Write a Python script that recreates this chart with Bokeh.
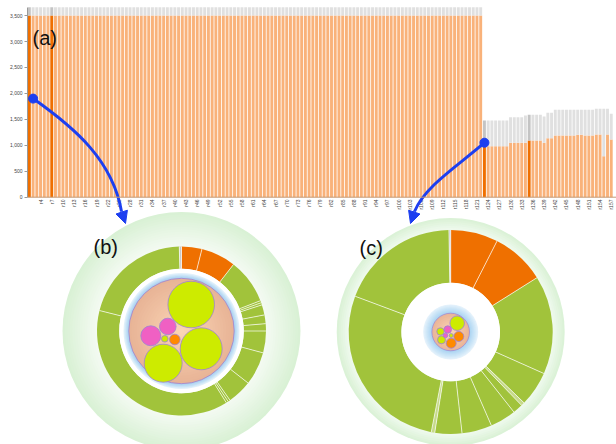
import math
from bokeh.plotting import figure
from bokeh.models import (Range1d, LinearAxis, FixedTicker, NumeralTickFormatter,
                          Span, Arrow, NormalHead)
from bokeh.core.properties import value
from bokeh.embed import file_html
from bokeh.resources import INLINE

# ---------------- data: bar chart (a) ----------------
used_vals = [
    3500, 3500, 3500, 3500, 3500, 3500, 3500, 3500, 3500, 3500, 3500, 3500, 3500, 3500, 3500, 3500, 3500, 3500, 3500, 3500,
    3500, 3500, 3500, 3500, 3500, 3500, 3500, 3500, 3500, 3500, 3500, 3500, 3500, 3500, 3500, 3500, 3500, 3500, 3500, 3500,
    3500, 3500, 3500, 3500, 3500, 3500, 3500, 3500, 3500, 3500, 3500, 3500, 3500, 3500, 3500, 3500, 3500, 3500, 3500, 3500,
    3500, 3500, 3500, 3500, 3500, 3500, 3500, 3500, 3500, 3500, 3500, 3500, 3500, 3500, 3500, 3500, 3500, 3500, 3500, 3500,
    3500, 3500, 3500, 3500, 3500, 3500, 3500, 3500, 3500, 3500, 3500, 3500, 3500, 3500, 3500, 3500, 3500, 3500, 3500, 3500,
    3500, 3500, 3500, 3500, 3500, 3500, 3500, 3500, 3500, 3500, 3500, 3500, 3500, 3500, 3500, 3500, 3500, 3500, 3500, 3500,
    3500, 3500,
    983, 983, 983, 983, 983, 983, 983,
    1048, 1048, 1048, 1048, 1048,
    1092, 1092, 1092, 1092, 1048,
    1137, 1137,
    1189, 1189, 1189, 1189, 1189, 1189, 1205, 1205, 1189, 1189, 1189,
    1208, 1208, 790, 1208, 1112,
]
total_vals = [
    3660, 3660, 3660, 3660, 3660, 3660, 3660, 3660, 3660, 3660, 3660, 3660, 3660, 3660, 3660, 3660, 3660, 3660, 3660, 3660,
    3660, 3660, 3660, 3660, 3660, 3660, 3660, 3660, 3660, 3660, 3660, 3660, 3660, 3660, 3660, 3660, 3660, 3660, 3660, 3660,
    3660, 3660, 3660, 3660, 3660, 3660, 3660, 3660, 3660, 3660, 3660, 3660, 3660, 3660, 3660, 3660, 3660, 3660, 3660, 3660,
    3660, 3660, 3660, 3660, 3660, 3660, 3660, 3660, 3660, 3660, 3660, 3660, 3660, 3660, 3660, 3660, 3660, 3660, 3660, 3660,
    3660, 3660, 3660, 3660, 3660, 3660, 3660, 3660, 3660, 3660, 3660, 3660, 3660, 3660, 3660, 3660, 3660, 3660, 3660, 3660,
    3660, 3660, 3660, 3660, 3660, 3660, 3660, 3660, 3660, 3660, 3660, 3660, 3660, 3660, 3660, 3660, 3660, 3660, 3660, 3660,
    3660, 3660,
    1478, 1478, 1478, 1478, 1478, 1478, 1478,
    1541, 1541, 1541, 1541, 1574,
    1588, 1588, 1588, 1588, 1555,
    1626, 1626,
    1684, 1684, 1684, 1684, 1684, 1684, 1684, 1684, 1684, 1684, 1684,
    1703, 1703, 1703, 1703, 1607,
]
highlight_bars = ["r1", "r7", "r123", "r135"]
tick_labels = ["r4", "r7", "r10", "r13", "r16", "r19", "r22", "r25", "r28", "r31", "r34", "r37",
               "r40", "r43", "r46", "r49", "r52", "r55", "r58", "r61", "r64", "r67", "r70", "r73",
               "r76", "r79", "r82", "r85", "r88", "r91", "r94", "r97", "r100", "r103", "r106", "r109",
               "r112", "r115", "r118", "r121", "r124", "r127", "r130", "r133", "r136", "r139", "r142",
               "r145", "r148", "r151", "r154", "r157"]
y_ticks = [0, 500, 1000, 1500, 2000, 2500, 3000, 3500]
arrow_bars = ["r2", "r123"]          # bars the two call-outs start from
arrow_levels = [1900, 1050]          # value level of the call-out dots

# ---------------- data: sunbursts (b) and (c) ----------------
sun_b_sizes = [14, 24, 31, 1.5, 1.5, 7, 6, 5, 15, 23, 17, 1.5, 1.5, 136, 74.5, 1.5]
sun_b_kinds = ["o", "o", "g", "g", "g", "g", "g", "g", "g", "g", "g", "g", "g", "g", "g", "x"]
sun_c_sizes = [27, 30.8, 56.2, 20, 2, 5.7, 14.8, 17.1, 15.4, 2, 99.5, 68.5, 1]
sun_c_kinds = ["o", "o", "g", "g", "l", "g", "g", "g", "g", "l", "g", "g", "x"]

# circle-pack leaves (value ~ area)
pack_b_values = [543, 441, 361, 100, 69, 11, 28]
pack_b_kinds = ["yg", "yg", "yg", "pk", "pk", "yg", "or"]
pack_c_values = [53, 14, 16, 14, 5, 4, 25, 25]
pack_c_kinds = ["yg", "yg", "yg", "pk", "pk", "yg", "or", "or"]

# ---------------- layout / style ----------------
W, H = 616, 444
def Y(py):
    return H - py

LIGHT_OR = "#f9b27a"
DARK_OR = "#ef6f00"
LIGHT_GR = "#e0e0e0"
DARK_GR = "#c4c4c4"
BLUE = "#1d3ff0"
SUN_COL = {"o": "#ef7000", "g": "#a1c33b", "l": "#c6d98a", "x": "#c8c8c8"}
LEAF_COL = {"yg": "#cdeb00", "pk": "#f060c3", "or": "#ff8a00"}
PURPLE = "#9c83d4"

FRAME_L, FRAME_R = 27, W
BAR_PX = 3.73
Y0_PX, PX_PER_UNIT = 196.7, 0.0519

p = figure(width=W, height=H, output_backend="svg", toolbar_location=None,
           x_range=Range1d(FRAME_L, FRAME_R), y_range=Range1d(0, H),
           x_axis_location=None, y_axis_location=None,
           min_border_left=FRAME_L, min_border_right=0, min_border_top=0, min_border_bottom=0)
p.grid.visible = False
p.outline_line_color = None
p.background_fill_color = "white"
p.border_fill_color = "white"
p.extra_x_ranges = {"bx": Range1d(-0.5, -0.5 + (FRAME_R - FRAME_L) / BAR_PX)}
p.extra_y_ranges = {"by": Range1d(-(H - Y0_PX) / PX_PER_UNIT, Y0_PX / PX_PER_UNIT)}

# ---- bars ----
n = len(used_vals)
xs = list(range(n))
hi = {int(nm[1:]) - 1 for nm in highlight_bars}
ocol = [DARK_OR if i in hi else LIGHT_OR for i in xs]
gcol = [DARK_GR if i in hi else LIGHT_GR for i in xs]
p.vbar(x=xs, bottom=0, top=used_vals, width=0.78, fill_color=ocol, line_color=None,
       x_range_name="bx", y_range_name="by")
p.vbar(x=xs, bottom=used_vals, top=total_vals, width=0.78, fill_color=gcol, line_color=None,
       x_range_name="bx", y_range_name="by")
p.add_layout(Span(location=0, dimension="width", y_range_name="by",
                  line_color="#c29a78", line_width=1))

tick_x = [int(t[1:]) - 1 for t in tick_labels]
p.text(x=tick_x, y=-45, text=tick_labels, angle=math.pi / 2, text_align="right",
       text_baseline="middle", text_font_size="5px", text_color="#444444",
       text_font=value("Liberation Sans"), x_range_name="bx", y_range_name="by")

ax = LinearAxis(y_range_name="by", ticker=FixedTicker(ticks=y_ticks),
                formatter=NumeralTickFormatter(format="0,0"), bounds=(0, 3660))
ax.axis_line_color = "#9a9a9a"
ax.major_tick_line_color = "#9a9a9a"
ax.major_tick_out = 3
ax.major_tick_in = 0
ax.minor_tick_line_color = None
ax.major_label_text_font_size = "5px"
ax.major_label_standoff = 2
ax.major_label_text_color = "#444444"
ax.major_label_text_font = "Liberation Sans"
p.add_layout(ax, "left")

# ---- helpers ----
def mix(c0, c1, t):
    a = [int(c0[i:i + 2], 16) for i in (1, 3, 5)]
    b = [int(c1[i:i + 2], 16) for i in (1, 3, 5)]
    return "#%02x%02x%02x" % tuple(round(a[k] + (b[k] - a[k]) * t) for k in range(3))

def radial_fill(cx, cy, r_out, r_in, c_out, c_in, steps):
    rs, cs = [], []
    for i in range(steps):
        t = i / (steps - 1)
        rs.append(r_out - (r_out - r_in) * i / steps)
        cs.append(mix(c_out, c_in, t))
    p.circle(x=[cx] * steps, y=[cy] * steps, radius=rs, fill_color=cs, line_color=None)

def sunburst(cx, cy, r_in, r_out, sizes, kinds):
    tot = sum(sizes)
    acc = 0.0
    st, en, bnd = [], [], []
    for s in sizes:
        th1 = acc / tot * 2 * math.pi
        acc += s
        th2 = acc / tot * 2 * math.pi
        st.append(math.pi / 2 - th2)
        en.append(math.pi / 2 - th1)
        bnd.append(th1)
    p.annular_wedge(x=cx, y=cy, inner_radius=r_in, outer_radius=r_out, start_angle=st,
                    end_angle=en, fill_color=[SUN_COL[k] for k in kinds], line_color=None)
    x0 = [cx + r_in * math.sin(t) for t in bnd]
    y0 = [cy + r_in * math.cos(t) for t in bnd]
    x1 = [cx + r_out * math.sin(t) for t in bnd]
    y1 = [cy + r_out * math.cos(t) for t in bnd]
    p.segment(x0=x0, y0=y0, x1=x1, y1=y1, line_color="white", line_width=0.8, line_alpha=0.85)

def pack(cx, cy, values, kinds, offsets, scale):
    p.circle(x=[cx + o[0] for o in offsets], y=[cy - o[1] for o in offsets],
             radius=[math.sqrt(v) * scale for v in values],
             fill_color=[LEAF_COL[k] for k in kinds], line_color=PURPLE, line_width=0.8)

# ---- diagram (b) ----
bx, byy = 181, Y(330.5)
radial_fill(bx, byy, 119, 84.5, "#d9f1d5", "#f3faf1", 14)
sunburst(bx, byy, 62.3, 84.5, sun_b_sizes, sun_b_kinds)
p.circle(x=bx, y=byy, radius=62.3, fill_color="white", line_color=None)
radial_fill(bx, byy, 58, 52.7, "#e2f1fb", "#a9d2f1", 6)
radial_fill(bx, byy, 52.7, 0, "#e8b496", "#fbd5b6", 20)
p.circle(x=bx, y=byy, radius=52.7, fill_color=None, line_color=PURPLE, line_width=0.8)
off_b = [(9.7, -26.5), (19.7, 17.8), (-18.3, 32.2), (-30.7, 4.8), (-13.7, -4.5), (-16.7, 7.8), (-6.7, 8.5)]
pack(bx, byy, pack_b_values, pack_b_kinds, off_b, 1.0)

# ---- diagram (c) ----
cx, cy = 450.2, Y(331.5)
radial_fill(cx, cy, 114, 102, "#dbf2d7", "#eef9ec", 6)
sunburst(cx, cy, 49.3, 102, sun_c_sizes, sun_c_kinds)
p.circle(x=cx, y=cy, radius=49.3, fill_color="white", line_color=None)
radial_fill(cx, cy, 27.5, 18.8, "#e3f1fb", "#acd5f2", 8)
radial_fill(cx, cy, 18.8, 0, "#eab699", "#fbd4b5", 10)
p.circle(x=cx, y=cy, radius=18.8, fill_color=None, line_color=PURPLE, line_width=0.7)
off_c = [(6.5, -8.8), (-10.2, -0.5), (-9.2, 7.8), (-2.9, -2.5), (-5.2, 3.5), (0.5, 3.5), (8.1, 4.5), (0.5, 11.2)]
pack(cx, cy, pack_c_values, pack_c_kinds, off_c, 1.0)

# ---- call-out arrows (start at bars, end at the diagrams) ----
dot_px = [FRAME_L + (int(b[1:]) - 1 + 0.5) * BAR_PX for b in arrow_bars]
dot_py = [Y(Y0_PX - v * PX_PER_UNIT) for v in arrow_levels]
p.bezier(x0=dot_px, y0=dot_py, x1=[121, 414], y1=[Y(211), Y(211)],
         cx0=[75, 458], cy0=[Y(128), Y(165)], cx1=[112, 425], cy1=[Y(160), Y(185)],
         line_color=BLUE, line_width=3)
for (xs0, ys0, xe, ye) in [(121, 211, 125, 223), (414, 211, 410, 223)]:
    p.add_layout(Arrow(end=NormalHead(size=12, fill_color=BLUE, line_color=BLUE),
                       x_start=xs0, y_start=Y(ys0), x_end=xe, y_end=Y(ye),
                       line_color=BLUE, line_width=3))
p.circle(x=dot_px, y=dot_py, radius=4.5, fill_color=BLUE, line_color=BLUE)

# ---- panel labels ----
p.text(x=[32, 93, 359], y=[Y(37.7), Y(246.5), Y(247.5)], text=["(a)", "(b)", "(c)"],
       text_font=value("Liberation Sans"), text_font_size="20px", text_color="#111111",
       text_align="left", text_baseline="alphabetic")

open("out.html", "w").write(file_html(p, INLINE))
